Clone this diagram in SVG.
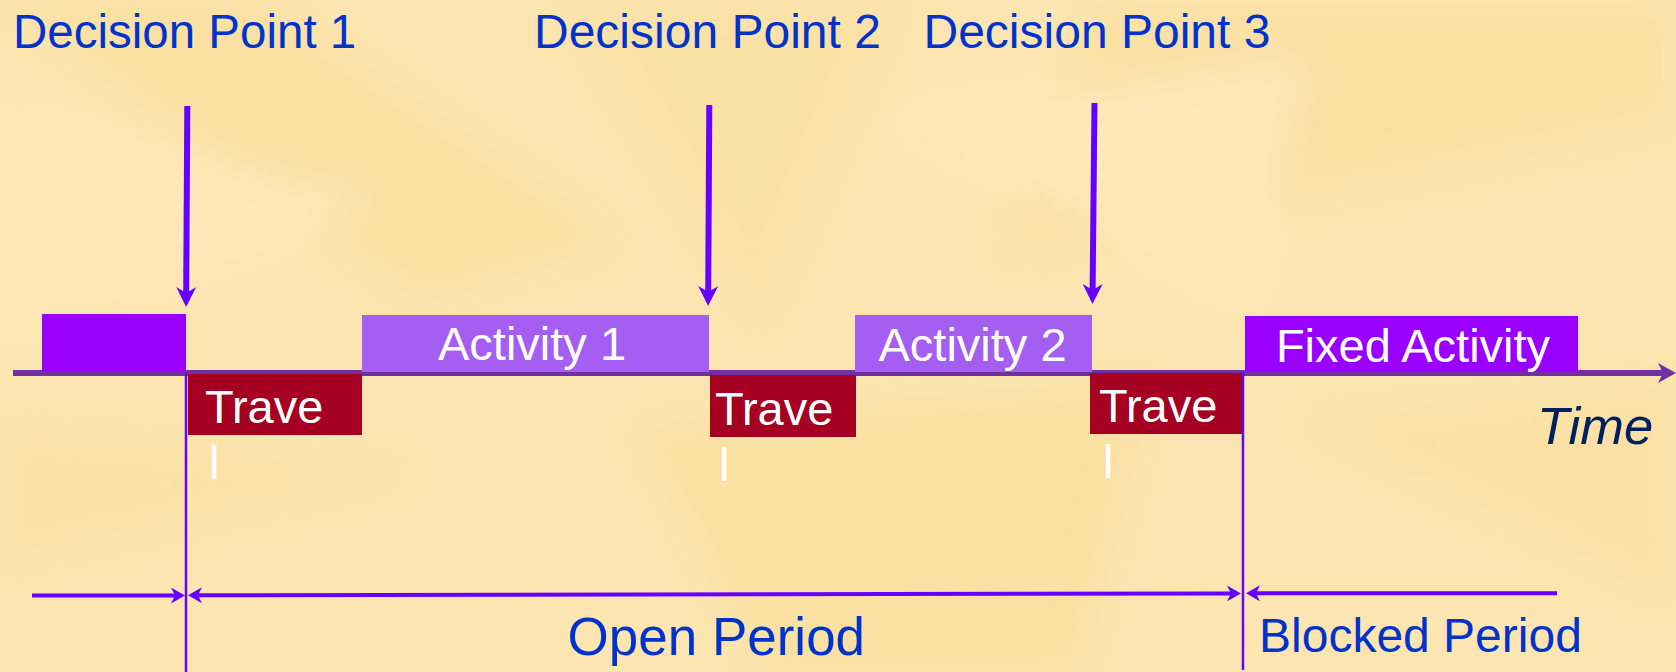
<svg xmlns="http://www.w3.org/2000/svg" width="1676" height="672" viewBox="0 0 1676 672">
  <style>
    .lbl { font-family: "Liberation Sans", Arial, sans-serif; fill: #0033CC; }
    .wht { font-family: "Liberation Sans", Arial, sans-serif; fill: #FFFFFF; font-size: 47px; }
    .act { fill: #A55EF2; }
    .fix { fill: #9900FF; }
    .trv { fill: #A50021; }
    .dec { stroke: #6600FF; stroke-width: 6; fill: none; }
    .per { stroke: #6600FF; stroke-width: 4; fill: none; }
    .vln { stroke: #6600FF; stroke-width: 2.5; fill: none; }
    .tl  { stroke: #7030A0; stroke-width: 6; fill: none; }
  </style>
  <defs>
    <filter id="soft" x="-20%" y="-20%" width="140%" height="140%">
      <feGaussianBlur stdDeviation="18"/>
    </filter>
    <marker id="dhead" viewBox="0 0 20 20" refX="6" refY="10" markerWidth="20" markerHeight="20" markerUnits="userSpaceOnUse" orient="auto">
      <path d="M0,0 L20,10 L0,20 L6,10 z" fill="#6600FF"/>
    </marker>
    <marker id="bhead" viewBox="0 0 14 16" refX="4" refY="8" markerWidth="14" markerHeight="16" markerUnits="userSpaceOnUse" orient="auto-start-reverse">
      <path d="M0,0 L14,8 L0,16 L4,8 z" fill="#6600FF"/>
    </marker>
    <marker id="thead" viewBox="0 0 18 20" refX="5" refY="10" markerWidth="18" markerHeight="20" markerUnits="userSpaceOnUse" orient="auto">
      <path d="M0,0 L18,10 L0,20 L5,10 z" fill="#7030A0"/>
    </marker>
  </defs>

  <g id="background">
    <rect x="0" y="0" width="1676" height="672" fill="#FCE5B0"/>
    <g filter="url(#soft)" opacity="0.4">
      <polygon points="0,0 260,0 620,240 420,300" fill="#F8D98E"/>
      <polygon points="560,0 900,0 760,330" fill="#F9DC96"/>
      <polygon points="1100,0 1676,0 1676,120 1000,260" fill="#F9DA92"/>
      <polygon points="0,430 420,470 0,560" fill="#F9DB94"/>
      <polygon points="640,430 1150,380 1080,672 760,672" fill="#F9D98E"/>
      <polygon points="1300,420 1676,380 1676,600" fill="#F9DB94"/>
      <polygon points="0,120 380,200 0,330" fill="#FEEDC6"/>
      <polygon points="900,120 1300,60 1250,300" fill="#FEEDC6"/>
    </g>
  </g>

  <g id="connectors">
    <line id="timeline" class="tl" x1="13" y1="373" x2="1663" y2="373" marker-end="url(#thead)"/>
    <line id="dp1-arrow" class="dec" x1="187.3" y1="106" x2="186.2" y2="293" marker-end="url(#dhead)"/>
    <line id="dp2-arrow" class="dec" x1="709.3" y1="105" x2="708.2" y2="292" marker-end="url(#dhead)"/>
    <line id="dp3-arrow" class="dec" x1="1094.5" y1="103" x2="1092.6" y2="290" marker-end="url(#dhead)"/>
    <line id="vline-1" class="vln" x1="186" y1="373" x2="186" y2="672"/>
    <line id="vline-2" class="vln" x1="1243" y1="372" x2="1243" y2="670"/>
    <line id="pre-period" class="per" x1="32" y1="595.5" x2="175" y2="595.5" marker-end="url(#bhead)"/>
    <line id="open-period" class="per" x1="198" y1="595.3" x2="1231" y2="593.4" marker-start="url(#bhead)" marker-end="url(#bhead)"/>
    <line id="blocked-period" class="per" x1="1256" y1="593.3" x2="1557" y2="593.3" marker-start="url(#bhead)"/>
  </g>

  <g id="prior-activity">
    <rect class="fix" x="42" y="314" width="144" height="57"/>
  </g>

  <g id="activity-1">
    <rect class="act" x="362" y="315" width="347" height="57"/>
    <text class="wht" x="532" y="360" text-anchor="middle">Activity 1</text>
  </g>

  <g id="activity-2">
    <rect class="act" x="855" y="315" width="237" height="57"/>
    <text class="wht" x="972.5" y="361" text-anchor="middle">Activity 2</text>
  </g>

  <g id="fixed-activity">
    <rect class="fix" x="1245" y="316" width="333" height="56"/>
    <text class="wht" x="1413" y="361.5" text-anchor="middle" font-size="47.5">Fixed Activity</text>
  </g>

  <g id="travel-1">
    <rect class="trv" x="188" y="374" width="174" height="61"/>
    <text class="wht" x="205" y="422.5">Trave</text>
    <text class="wht" x="209" y="479">l</text>
  </g>

  <g id="travel-2">
    <rect class="trv" x="710" y="375" width="146" height="62"/>
    <text class="wht" x="715" y="424.5">Trave</text>
    <text class="wht" x="719" y="481">l</text>
  </g>

  <g id="travel-3">
    <rect class="trv" x="1090" y="373" width="152" height="61"/>
    <text class="wht" x="1099" y="421.5">Trave</text>
    <text class="wht" x="1103" y="478">l</text>
  </g>

  <g id="decision-labels">
    <text class="lbl" x="13" y="48" font-size="47.5">Decision Point 1</text>
    <text class="lbl" x="534" y="48" font-size="48">Decision Point 2</text>
    <text class="lbl" x="923.5" y="48" font-size="48">Decision Point 3</text>
  </g>

  <g id="time-label">
    <text x="1537" y="444" font-size="52.5" font-style="italic" fill="#002060" font-family="Liberation Sans, Arial, sans-serif">Time</text>
  </g>

  <g id="period-labels">
    <text class="lbl" x="567.5" y="655" font-size="53">Open Period</text>
    <text class="lbl" x="1259" y="652" font-size="48">Blocked Period</text>
  </g>
</svg>
